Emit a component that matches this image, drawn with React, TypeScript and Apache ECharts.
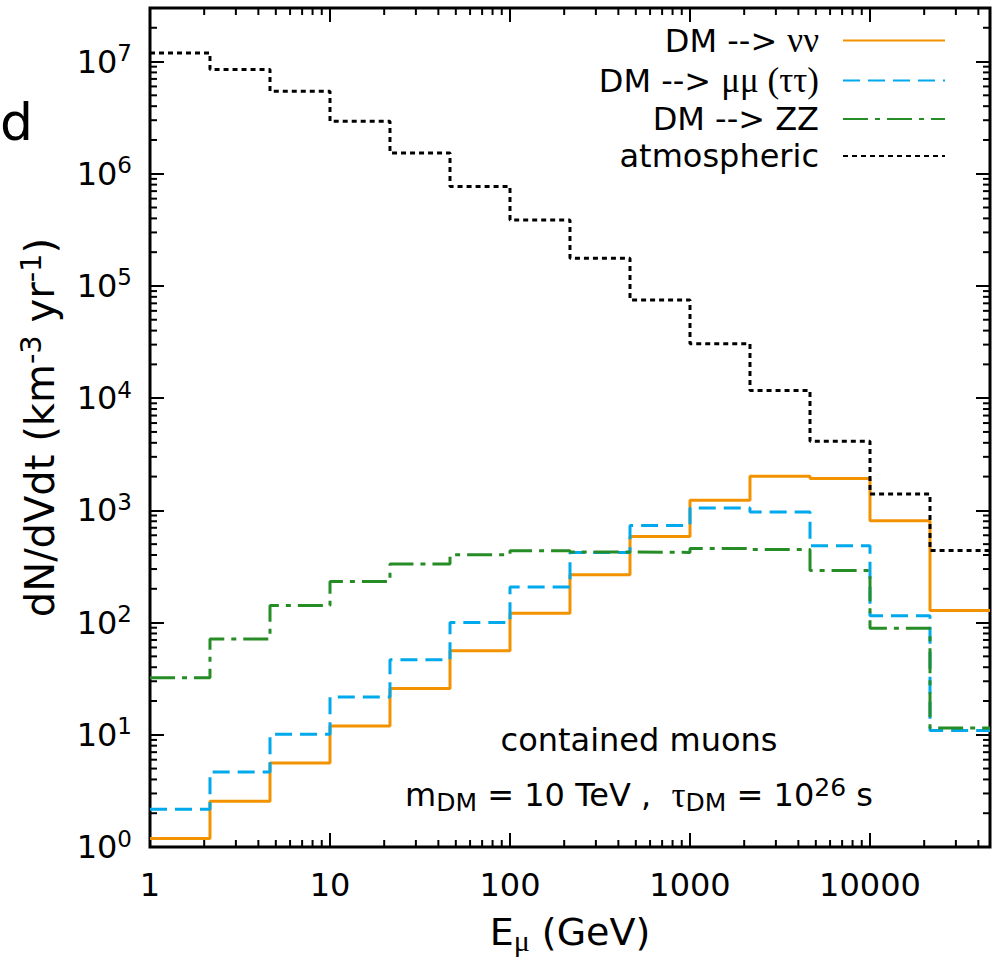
import React, { useEffect, useRef } from 'react';
import * as echarts from 'echarts';

// Bin edges of E_mu (GeV): 3 bins per decade
const BIN_EDGES = [1, 2.154, 4.642, 10, 21.54, 46.42, 100, 215.4, 464.2, 1000, 2154, 4642, 10000, 21544, 46416];
// dN/dVdt per bin (km^-3 yr^-1)
const DM_NUNU = [1.19, 2.56, 5.6, 12.0, 25.9, 56, 121, 267, 586, 1230, 2010, 1920, 810, 128];
const DM_MUMU = [2.17, 4.67, 10.1, 21.7, 46.7, 100, 208, 422, 735, 1050, 966, 484, 115, 10.9];
const DM_ZZ = [32.3, 71.5, 142, 232, 332, 402, 437, 425, 422, 458, 449, 291, 89, 11.5];
const ATMOSPHERIC = [1.19e7, 8.49e6, 5.43e6, 2.93e6, 1.53e6, 7.7e5, 3.88e5, 1.77e5, 7.5e4, 3.05e4, 1.17e4, 4.13e3, 1.4e3, 439];

const SERIES_NAMES = ['DM --> νν', 'DM --> μμ (ττ)', 'DM --> ZZ', 'atmospheric'];
const SERIES_COLORS = ['#f39200', '#00a9ec', '#268c26', '#000000'];

const X_MIN = 1;
const X_MAX = 46416;
const Y_MIN = 1;
const Y_MAX = 3e7;
const X_DECADES = [1, 10, 100, 1000, 10000];
const Y_DECADES = [1, 10, 100, 1000, 1e4, 1e5, 1e6, 1e7];
const MINOR_MULTIPLIERS = [2, 3, 4, 5, 6, 7, 8, 9];

const FONT = 'DejaVu Sans';
const SERIF = 'Liberation Serif';

function toSteps(values: number[]) {
  const pts: number[][] = [];
  values.forEach((v, i) => {
    pts.push([BIN_EDGES[i], v]);
    pts.push([BIN_EDGES[i + 1], v]);
  });
  return pts;
}

function isPow10(v: number) {
  const e = Math.log10(v);
  return Math.abs(e - Math.round(e)) < 1e-6;
}

export default function App() {
  const ref = useRef<HTMLDivElement>(null);
  useEffect(() => {
    if (!ref.current) return;
    const chart = echarts.init(ref.current, null, { renderer: 'svg' });

    const xMinor = X_DECADES.flatMap((d) => MINOR_MULTIPLIERS.map((m) => m * d)).filter((v) => v < X_MAX);
    const yMinor = Y_DECADES.flatMap((d) => MINOR_MULTIPLIERS.map((m) => m * d)).filter((v) => v < Y_MAX);

    const tickStyle = { stroke: '#000', lineWidth: 2 };
    const minorLen = 7;

    const lineTypes: any[] = ['solid', [17, 8], [25, 7, 5, 7], [5, 4]];
    const datasets = [DM_NUNU, DM_MUMU, DM_ZZ, ATMOSPHERIC];

    const lineSeries = datasets.map((vals, i) => ({
      name: SERIES_NAMES[i],
      type: 'line',
      data: toSteps(vals),
      showSymbol: false,
      symbol: 'none',
      color: SERIES_COLORS[i],
      lineStyle: { color: SERIES_COLORS[i], width: 3, type: lineTypes[i], cap: 'butt' },
      silent: true,
      z: 3 + i,
    }));

    const richSup = {
      b: { fontFamily: FONT, fontSize: 32, lineHeight: 40, color: '#000' },
      s: { fontFamily: FONT, fontSize: 23, lineHeight: 20, verticalAlign: 'top', color: '#000' },
    };

    const option: any = {
      animation: false,
      backgroundColor: '#fff',
      grid: {
        left: 150,
        right: 2,
        top: 8,
        bottom: 118,
        containLabel: false,
        outerBoundsMode: 'none',
        show: true,
        borderColor: '#000',
        borderWidth: 3,
        backgroundColor: 'transparent',
      },
      legend: {
        data: SERIES_NAMES,
        orient: 'vertical',
        align: 'right',
        right: 46,
        top: 23,
        padding: 0,
        itemWidth: 102,
        itemHeight: 14,
        itemGap: 5,
        selectedMode: false,
        itemStyle: { opacity: 0, borderWidth: 0 },
        formatter: (name: string) =>
          name.replace('μμ (ττ)', '{g|μμ (ττ)}').replace('νν', '{g|νν}'),
        textStyle: {
          fontFamily: FONT,
          fontSize: 32,
          color: '#000',
          lineHeight: 32,
          padding: [0, 19, 0, 0],
          rich: {
            g: { fontFamily: SERIF, fontSize: 35, lineHeight: 32, color: '#000' },
          },
        },
      },
      xAxis: [
        {
          type: 'log',
          logBase: 10,
          min: X_MIN,
          max: X_MAX,
          position: 'bottom',
          splitNumber: 5,
          axisLine: { show: false },
          splitLine: { show: false },
          axisTick: { inside: true, length: 14, lineStyle: { color: '#000', width: 2 } },
          axisLabel: {
            margin: 22,
            fontFamily: FONT,
            fontSize: 32,
            color: '#000',
            formatter: (v: number) => (isPow10(v) ? String(Math.round(v)) : ''),
          },
          name: '{b|E}{sub|μ}{b| (GeV)}',
          nameLocation: 'middle',
          nameGap: 62,
          nameMoveOverlap: false,
          nameTextStyle: {
            rich: {
              b: { fontFamily: FONT, fontSize: 38, lineHeight: 46, color: '#000' },
              sub: { fontFamily: SERIF, fontSize: 30, lineHeight: 16, verticalAlign: 'bottom', color: '#000' },
            },
          },
        },
        {
          type: 'log',
          logBase: 10,
          min: X_MIN,
          max: X_MAX,
          position: 'top',
          splitNumber: 5,
          axisLine: { show: false },
          splitLine: { show: false },
          axisTick: { inside: true, length: 14, lineStyle: { color: '#000', width: 2 } },
          axisLabel: { show: false },
        },
      ],
      yAxis: [
        {
          type: 'log',
          logBase: 10,
          min: Y_MIN,
          max: Y_MAX,
          position: 'left',
          splitNumber: 8,
          axisLine: { show: false },
          splitLine: { show: false },
          axisTick: { inside: true, length: 14, lineStyle: { color: '#000', width: 2 } },
          axisLabel: {
            margin: 18,
            formatter: (v: number) => (isPow10(v) ? `{b|10}{s|${Math.round(Math.log10(v))}}` : ''),
            rich: richSup,
          },
          name: '{b|dN/dVdt (km}{s|-3}{b| yr}{s|-1}{b|)}',
          nameLocation: 'middle',
          nameRotate: 90,
          nameGap: 86,
          nameMoveOverlap: false,
          nameTextStyle: {
            padding: [0, 0, 0, 0],
            rich: {
              b: { fontFamily: FONT, fontSize: 40, lineHeight: 48, color: '#000' },
              s: { fontFamily: FONT, fontSize: 29, lineHeight: 22, verticalAlign: 'top', color: '#000' },
            },
          },
        },
        {
          type: 'log',
          logBase: 10,
          min: Y_MIN,
          max: Y_MAX,
          position: 'right',
          splitNumber: 8,
          axisLine: { show: false },
          splitLine: { show: false },
          axisTick: { inside: true, length: 14, lineStyle: { color: '#000', width: 2 } },
          axisLabel: { show: false },
        },
      ],
      series: [
        ...lineSeries,
        {
          name: 'xMinorTicks',
          type: 'custom',
          silent: true,
          clip: false,
          data: xMinor.map((v) => [v, Y_MIN]),
          encode: { x: 0, y: 1 },
          renderItem: (params: any, api: any) => {
            const px = api.coord([api.value(0), Y_MIN])[0];
            const cs = params.coordSys;
            const bottom = cs.y + cs.height;
            const top = cs.y;
            return {
              type: 'group',
              children: [
                { type: 'line', shape: { x1: px, y1: bottom, x2: px, y2: bottom - minorLen }, style: tickStyle },
                { type: 'line', shape: { x1: px, y1: top, x2: px, y2: top + minorLen }, style: tickStyle },
              ],
            };
          },
        },
        {
          name: 'yMinorTicks',
          type: 'custom',
          silent: true,
          clip: false,
          data: yMinor.map((v) => [X_MIN, v]),
          encode: { x: 0, y: 1 },
          renderItem: (params: any, api: any) => {
            const py = api.coord([X_MIN, api.value(1)])[1];
            const cs = params.coordSys;
            const left = cs.x;
            const right = cs.x + cs.width;
            return {
              type: 'group',
              children: [
                { type: 'line', shape: { x1: left, y1: py, x2: left + minorLen, y2: py }, style: tickStyle },
                { type: 'line', shape: { x1: right, y1: py, x2: right - minorLen, y2: py }, style: tickStyle },
              ],
            };
          },
        },
      ],
      graphic: [
        {
          type: 'text',
          x: 0,
          y: 122,
          style: {
            text: 'd',
            fontFamily: FONT,
            fontSize: 52,
            fill: '#000',
            align: 'left',
            verticalAlign: 'middle',
          },
        },
        {
          type: 'text',
          x: 639,
          y: 740,
          style: {
            text: 'contained muons',
            fontFamily: FONT,
            fontSize: 32,
            fill: '#000',
            align: 'center',
            verticalAlign: 'middle',
          },
        },
        {
          type: 'text',
          x: 639,
          y: 795,
          style: {
            text: '{b|m}{sub|DM}{b| = 10 TeV ,  }{g|τ}{sub|DM}{b| = 10}{sup|26}{b| s}',
            align: 'center',
            verticalAlign: 'middle',
            rich: {
              b: { fontFamily: FONT, fontSize: 32, lineHeight: 40, fill: '#000', color: '#000' },
              g: { fontFamily: SERIF, fontSize: 35, lineHeight: 40, fill: '#000', color: '#000' },
              sub: { fontFamily: FONT, fontSize: 25, lineHeight: 14, verticalAlign: 'bottom', fill: '#000', color: '#000' },
              sup: { fontFamily: FONT, fontSize: 25, lineHeight: 20, verticalAlign: 'top', fill: '#000', color: '#000' },
            },
          },
        },
      ],
    };

    chart.setOption(option);
    return () => chart.dispose();
  }, []);

  return (
    <div
      ref={ref}
      style={{ position: 'fixed', left: 0, top: 0, width: 992, height: 965, background: '#fff' }}
    />
  );
}
